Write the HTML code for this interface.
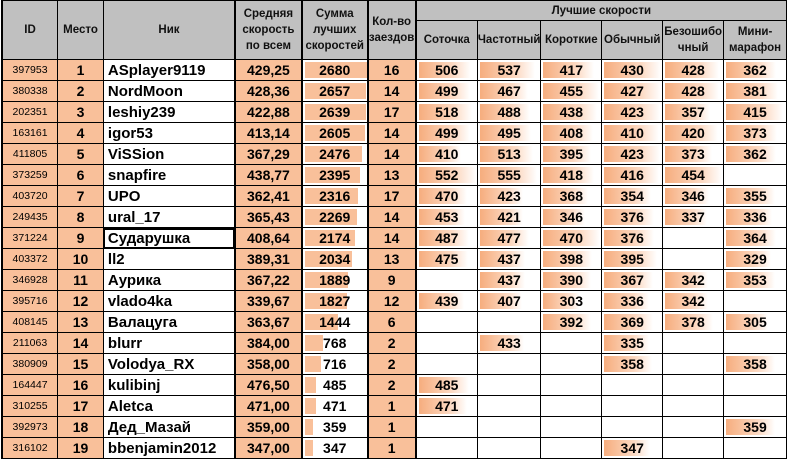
<!DOCTYPE html>
<html><head><meta charset="utf-8"><style>
body{margin:0;background:#fff;width:787px;height:461px;overflow:hidden}
table{border-collapse:collapse;table-layout:fixed;position:absolute;left:1px;top:0;font-family:"Liberation Sans","DejaVu Sans",sans-serif;font-weight:bold}
td,th{border:1px solid #000;padding:0;height:20px;text-align:center;font-size:14px;color:#000;overflow:hidden;white-space:nowrap;position:relative}
th{background:#c0c0c0;font-size:11.5px;line-height:16px;white-space:normal;font-weight:bold;color:#111}
th.top{height:19px}
td.id{background:#f9c09a;font-size:10.5px;font-weight:normal}
td.o{background:#f9c09a}
td.n{text-align:left;padding-left:4px;font-size:15px}
td.sel{outline:2px solid #000;outline-offset:-2px}
.b{position:absolute;left:2px;top:2px;bottom:2px;background:#f9c09a;width:calc(62px*var(--v)/2680)}
.g{position:absolute;left:2px;top:2px;bottom:2px;background:linear-gradient(90deg,#f6ad7e,#fcd9c2 65%,#fff);width:calc(57px*var(--v)/var(--m))}
td span{position:relative}
.tl{border-left:2px solid #000}
.c1{--m:552}.c2{--m:555}.c3{--m:470}.c4{--m:430}.c5{--m:454}.c6{--m:415}
</style></head><body>
<table>
<colgroup><col style="width:56px"><col style="width:46px"><col style="width:132px"><col style="width:67px"><col style="width:66px"><col style="width:48px"><col style="width:62px"><col style="width:61px"><col style="width:61px"><col style="width:61px"><col style="width:61px"><col style="width:63px"></colgroup>
<tr><th rowspan="2" style="height:58px" class="tl">ID</th><th rowspan="2">Место</th><th rowspan="2">Ник</th><th rowspan="2" class="tl">Средняя скорость по всем</th><th rowspan="2" class="tl">Сумма лучших скоростей</th><th rowspan="2" class="tl">Кол-во заездов</th><th colspan="6" class="top tl">Лучшие скорости</th></tr>
<tr><th class="tl" style="height:38px">Соточка</th><th>Частотный</th><th>Короткие</th><th>Обычный</th><th>Безошибо чный</th><th>Мини-марафон</th></tr>
<tr><td class="id tl">397953</td><td class="o">1</td><td class="n">ASplayer9119</td><td class="o tl">429,25</td><td class="tl"><div class="b" style="--v:2680"></div><span>2680</span></td><td class="o tl">16</td><td class="c1 tl"><div class="g" style="--v:506"></div><span>506</span></td><td class="c2"><div class="g" style="--v:537"></div><span>537</span></td><td class="c3"><div class="g" style="--v:417"></div><span>417</span></td><td class="c4"><div class="g" style="--v:430"></div><span>430</span></td><td class="c5"><div class="g" style="--v:428"></div><span>428</span></td><td class="c6"><div class="g" style="--v:362"></div><span>362</span></td></tr>
<tr><td class="id tl">380338</td><td class="o">2</td><td class="n">NordMoon</td><td class="o tl">428,36</td><td class="tl"><div class="b" style="--v:2657"></div><span>2657</span></td><td class="o tl">14</td><td class="c1 tl"><div class="g" style="--v:499"></div><span>499</span></td><td class="c2"><div class="g" style="--v:467"></div><span>467</span></td><td class="c3"><div class="g" style="--v:455"></div><span>455</span></td><td class="c4"><div class="g" style="--v:427"></div><span>427</span></td><td class="c5"><div class="g" style="--v:428"></div><span>428</span></td><td class="c6"><div class="g" style="--v:381"></div><span>381</span></td></tr>
<tr><td class="id tl">202351</td><td class="o">3</td><td class="n">leshiy239</td><td class="o tl">422,88</td><td class="tl"><div class="b" style="--v:2639"></div><span>2639</span></td><td class="o tl">17</td><td class="c1 tl"><div class="g" style="--v:518"></div><span>518</span></td><td class="c2"><div class="g" style="--v:488"></div><span>488</span></td><td class="c3"><div class="g" style="--v:438"></div><span>438</span></td><td class="c4"><div class="g" style="--v:423"></div><span>423</span></td><td class="c5"><div class="g" style="--v:357"></div><span>357</span></td><td class="c6"><div class="g" style="--v:415"></div><span>415</span></td></tr>
<tr><td class="id tl">163161</td><td class="o">4</td><td class="n">igor53</td><td class="o tl">413,14</td><td class="tl"><div class="b" style="--v:2605"></div><span>2605</span></td><td class="o tl">14</td><td class="c1 tl"><div class="g" style="--v:499"></div><span>499</span></td><td class="c2"><div class="g" style="--v:495"></div><span>495</span></td><td class="c3"><div class="g" style="--v:408"></div><span>408</span></td><td class="c4"><div class="g" style="--v:410"></div><span>410</span></td><td class="c5"><div class="g" style="--v:420"></div><span>420</span></td><td class="c6"><div class="g" style="--v:373"></div><span>373</span></td></tr>
<tr><td class="id tl">411805</td><td class="o">5</td><td class="n">ViSSion</td><td class="o tl">367,29</td><td class="tl"><div class="b" style="--v:2476"></div><span>2476</span></td><td class="o tl">14</td><td class="c1 tl"><div class="g" style="--v:410"></div><span>410</span></td><td class="c2"><div class="g" style="--v:513"></div><span>513</span></td><td class="c3"><div class="g" style="--v:395"></div><span>395</span></td><td class="c4"><div class="g" style="--v:423"></div><span>423</span></td><td class="c5"><div class="g" style="--v:373"></div><span>373</span></td><td class="c6"><div class="g" style="--v:362"></div><span>362</span></td></tr>
<tr><td class="id tl">373259</td><td class="o">6</td><td class="n">snapfire</td><td class="o tl">438,77</td><td class="tl"><div class="b" style="--v:2395"></div><span>2395</span></td><td class="o tl">13</td><td class="c1 tl"><div class="g" style="--v:552"></div><span>552</span></td><td class="c2"><div class="g" style="--v:555"></div><span>555</span></td><td class="c3"><div class="g" style="--v:418"></div><span>418</span></td><td class="c4"><div class="g" style="--v:416"></div><span>416</span></td><td class="c5"><div class="g" style="--v:454"></div><span>454</span></td><td></td></tr>
<tr><td class="id tl">403720</td><td class="o">7</td><td class="n">UPO</td><td class="o tl">362,41</td><td class="tl"><div class="b" style="--v:2316"></div><span>2316</span></td><td class="o tl">17</td><td class="c1 tl"><div class="g" style="--v:470"></div><span>470</span></td><td class="c2"><div class="g" style="--v:423"></div><span>423</span></td><td class="c3"><div class="g" style="--v:368"></div><span>368</span></td><td class="c4"><div class="g" style="--v:354"></div><span>354</span></td><td class="c5"><div class="g" style="--v:346"></div><span>346</span></td><td class="c6"><div class="g" style="--v:355"></div><span>355</span></td></tr>
<tr><td class="id tl">249435</td><td class="o">8</td><td class="n">ural_17</td><td class="o tl">365,43</td><td class="tl"><div class="b" style="--v:2269"></div><span>2269</span></td><td class="o tl">14</td><td class="c1 tl"><div class="g" style="--v:453"></div><span>453</span></td><td class="c2"><div class="g" style="--v:421"></div><span>421</span></td><td class="c3"><div class="g" style="--v:346"></div><span>346</span></td><td class="c4"><div class="g" style="--v:376"></div><span>376</span></td><td class="c5"><div class="g" style="--v:337"></div><span>337</span></td><td class="c6"><div class="g" style="--v:336"></div><span>336</span></td></tr>
<tr><td class="id tl">371224</td><td class="o">9</td><td class="n sel">Сударушка</td><td class="o tl">408,64</td><td class="tl"><div class="b" style="--v:2174"></div><span>2174</span></td><td class="o tl">14</td><td class="c1 tl"><div class="g" style="--v:487"></div><span>487</span></td><td class="c2"><div class="g" style="--v:477"></div><span>477</span></td><td class="c3"><div class="g" style="--v:470"></div><span>470</span></td><td class="c4"><div class="g" style="--v:376"></div><span>376</span></td><td></td><td class="c6"><div class="g" style="--v:364"></div><span>364</span></td></tr>
<tr><td class="id tl">403372</td><td class="o">10</td><td class="n">ll2</td><td class="o tl">389,31</td><td class="tl"><div class="b" style="--v:2034"></div><span>2034</span></td><td class="o tl">13</td><td class="c1 tl"><div class="g" style="--v:475"></div><span>475</span></td><td class="c2"><div class="g" style="--v:437"></div><span>437</span></td><td class="c3"><div class="g" style="--v:398"></div><span>398</span></td><td class="c4"><div class="g" style="--v:395"></div><span>395</span></td><td></td><td class="c6"><div class="g" style="--v:329"></div><span>329</span></td></tr>
<tr><td class="id tl">346928</td><td class="o">11</td><td class="n">Аурика</td><td class="o tl">367,22</td><td class="tl"><div class="b" style="--v:1889"></div><span>1889</span></td><td class="o tl">9</td><td class="tl"></td><td class="c2"><div class="g" style="--v:437"></div><span>437</span></td><td class="c3"><div class="g" style="--v:390"></div><span>390</span></td><td class="c4"><div class="g" style="--v:367"></div><span>367</span></td><td class="c5"><div class="g" style="--v:342"></div><span>342</span></td><td class="c6"><div class="g" style="--v:353"></div><span>353</span></td></tr>
<tr><td class="id tl">395716</td><td class="o">12</td><td class="n">vlado4ka</td><td class="o tl">339,67</td><td class="tl"><div class="b" style="--v:1827"></div><span>1827</span></td><td class="o tl">12</td><td class="c1 tl"><div class="g" style="--v:439"></div><span>439</span></td><td class="c2"><div class="g" style="--v:407"></div><span>407</span></td><td class="c3"><div class="g" style="--v:303"></div><span>303</span></td><td class="c4"><div class="g" style="--v:336"></div><span>336</span></td><td class="c5"><div class="g" style="--v:342"></div><span>342</span></td><td></td></tr>
<tr><td class="id tl">408145</td><td class="o">13</td><td class="n">Валацуга</td><td class="o tl">363,67</td><td class="tl"><div class="b" style="--v:1444"></div><span>1444</span></td><td class="o tl">6</td><td class="tl"></td><td></td><td class="c3"><div class="g" style="--v:392"></div><span>392</span></td><td class="c4"><div class="g" style="--v:369"></div><span>369</span></td><td class="c5"><div class="g" style="--v:378"></div><span>378</span></td><td class="c6"><div class="g" style="--v:305"></div><span>305</span></td></tr>
<tr><td class="id tl">211063</td><td class="o">14</td><td class="n">blurr</td><td class="o tl">384,00</td><td class="tl"><div class="b" style="--v:768"></div><span>768</span></td><td class="o tl">2</td><td class="tl"></td><td class="c2"><div class="g" style="--v:433"></div><span>433</span></td><td></td><td class="c4"><div class="g" style="--v:335"></div><span>335</span></td><td></td><td></td></tr>
<tr><td class="id tl">380909</td><td class="o">15</td><td class="n">Volodya_RX</td><td class="o tl">358,00</td><td class="tl"><div class="b" style="--v:716"></div><span>716</span></td><td class="o tl">2</td><td class="tl"></td><td></td><td></td><td class="c4"><div class="g" style="--v:358"></div><span>358</span></td><td></td><td class="c6"><div class="g" style="--v:358"></div><span>358</span></td></tr>
<tr><td class="id tl">164447</td><td class="o">16</td><td class="n">kulibinj</td><td class="o tl">476,50</td><td class="tl"><div class="b" style="--v:485"></div><span>485</span></td><td class="o tl">2</td><td class="c1 tl"><div class="g" style="--v:485"></div><span>485</span></td><td></td><td></td><td></td><td></td><td></td></tr>
<tr><td class="id tl">310255</td><td class="o">17</td><td class="n">Aletca</td><td class="o tl">471,00</td><td class="tl"><div class="b" style="--v:471"></div><span>471</span></td><td class="o tl">1</td><td class="c1 tl"><div class="g" style="--v:471"></div><span>471</span></td><td></td><td></td><td></td><td></td><td></td></tr>
<tr><td class="id tl">392973</td><td class="o">18</td><td class="n">Дед_Мазай</td><td class="o tl">359,00</td><td class="tl"><div class="b" style="--v:359"></div><span>359</span></td><td class="o tl">1</td><td class="tl"></td><td></td><td></td><td></td><td></td><td class="c6"><div class="g" style="--v:359"></div><span>359</span></td></tr>
<tr><td class="id tl">316102</td><td class="o">19</td><td class="n">bbenjamin2012</td><td class="o tl">347,00</td><td class="tl"><div class="b" style="--v:347"></div><span>347</span></td><td class="o tl">1</td><td class="tl"></td><td></td><td></td><td class="c4"><div class="g" style="--v:347"></div><span>347</span></td><td></td><td></td></tr>
</table>
</body></html>
